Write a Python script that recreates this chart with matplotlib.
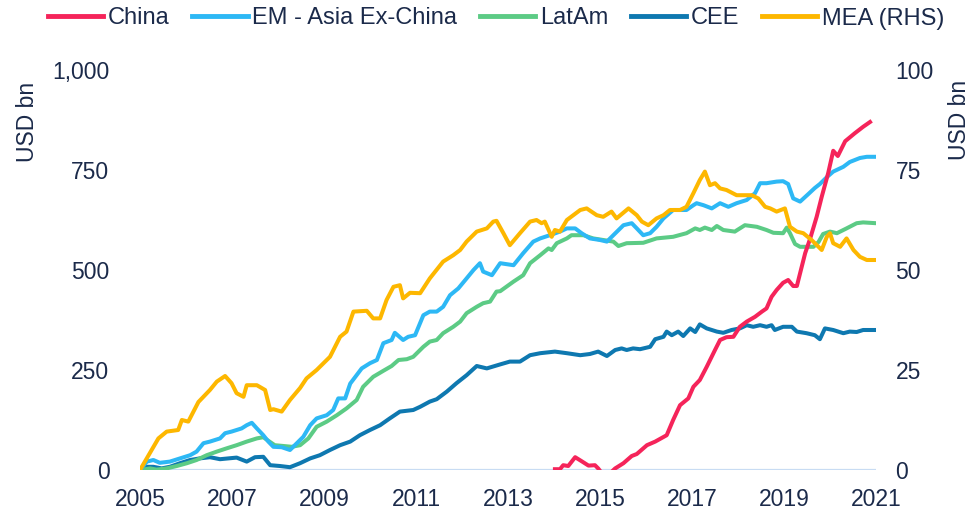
import matplotlib.pyplot as plt

plt.rcParams['font.family'] = ['Liberation Sans', 'DejaVu Sans']

# Monthly-ish readings, decimal years
china_x = [2014.02, 2014.13, 2014.20, 2014.31, 2014.46, 2014.60, 2014.75, 2014.89, 2014.96,
           2015.04, 2015.22, 2015.33, 2015.51, 2015.69, 2015.80, 2016.02, 2016.20, 2016.45,
           2016.59, 2016.74, 2016.92, 2017.03, 2017.17, 2017.32, 2017.50, 2017.61, 2017.75,
           2017.90, 2018.04, 2018.19, 2018.37, 2018.52, 2018.62, 2018.73, 2018.84, 2018.98,
           2019.09, 2019.20, 2019.28, 2019.35, 2019.46, 2019.57, 2019.71, 2019.82, 2019.96,
           2020.07, 2020.17, 2020.33, 2020.54, 2020.72, 2020.87]
china = [2, 2, 12, 10, 32, 22, 11, 12, 4,
         -8, -8, 4, 17, 35, 40, 62, 71, 87,
         125, 162, 179, 208, 225, 258, 300, 325, 332,
         333, 358, 371, 383, 396, 404, 433, 450, 468,
         475, 460, 460, 492, 542, 579, 633, 683, 742,
         798, 785, 822, 842, 858, 870]

asia_x = [2005.00, 2005.15, 2005.29, 2005.43, 2005.65, 2005.87, 2006.09, 2006.23, 2006.38,
          2006.52, 2006.63, 2006.74, 2006.85, 2006.99, 2007.10, 2007.21, 2007.32, 2007.43,
          2007.54, 2007.68, 2007.79, 2007.90, 2008.08, 2008.26, 2008.41, 2008.55, 2008.70,
          2008.84, 2009.06, 2009.20, 2009.31, 2009.46, 2009.57, 2009.82, 2010.00, 2010.15,
          2010.29, 2010.47, 2010.54, 2010.72, 2010.83, 2010.98, 2011.16, 2011.30, 2011.45,
          2011.59, 2011.74, 2011.92, 2012.10, 2012.25, 2012.39, 2012.46, 2012.65, 2012.83,
          2013.12, 2013.33, 2013.55, 2013.70, 2013.91, 2014.13, 2014.28, 2014.46, 2014.60,
          2014.78, 2015.00, 2015.15, 2015.29, 2015.51, 2015.69, 2015.80, 2015.94, 2016.09,
          2016.23, 2016.38, 2016.59, 2016.88, 2017.03, 2017.10, 2017.25, 2017.43, 2017.61,
          2017.79, 2017.97, 2018.19, 2018.37, 2018.48, 2018.62, 2018.84, 2018.98, 2019.09,
          2019.20, 2019.35, 2019.53, 2019.67, 2019.78, 2019.93, 2020.07, 2020.29, 2020.43,
          2020.65, 2020.80, 2021.00]
asia = [0, 21, 25, 18, 21, 29, 37, 46, 67,
        71, 75, 79, 92, 96, 100, 104, 112, 118,
        104, 87, 71, 58, 57, 50, 67, 83, 112,
        129, 137, 150, 179, 179, 216, 254, 267, 275,
        317, 325, 343, 325, 333, 337, 387, 396, 396,
        408, 437, 454, 479, 500, 517, 496, 487, 517,
        512, 542, 571, 579, 587, 596, 604, 604, 592,
        579, 575, 571, 587, 612, 617, 604, 587, 592,
        608, 629, 650, 650, 662, 667, 662, 654, 667,
        658, 667, 675, 692, 717, 717, 721, 722, 715,
        679, 671, 690, 705, 715, 732, 746, 758, 770,
        780, 783, 783]

latam_x = [2005.00, 2005.22, 2005.36, 2005.58, 2005.80, 2006.02, 2006.23, 2006.45, 2006.67,
           2006.88, 2007.10, 2007.32, 2007.54, 2007.68, 2007.79, 2007.93, 2008.12, 2008.30,
           2008.48, 2008.66, 2008.84, 2009.06, 2009.28, 2009.49, 2009.71, 2009.85, 2010.07,
           2010.29, 2010.47, 2010.62, 2010.80, 2010.94, 2011.16, 2011.30, 2011.45, 2011.59,
           2011.81, 2011.96, 2012.10, 2012.32, 2012.46, 2012.61, 2012.75, 2012.83, 2013.12,
           2013.33, 2013.48, 2013.70, 2013.88, 2013.95, 2014.06, 2014.28, 2014.38, 2014.64,
           2014.85, 2015.07, 2015.29, 2015.40, 2015.58, 2015.94, 2016.23, 2016.59, 2016.88,
           2017.07, 2017.17, 2017.28, 2017.43, 2017.54, 2017.68, 2017.93, 2018.15, 2018.41,
           2018.62, 2018.77, 2018.98, 2019.06, 2019.13, 2019.24, 2019.35, 2019.64, 2019.75,
           2019.85, 2020.00, 2020.15, 2020.36, 2020.58, 2020.72, 2021.00]
latam = [0, 4, 1, 4, 10, 17, 25, 37, 46,
         54, 62, 71, 79, 82, 73, 62, 60, 58,
         62, 79, 108, 121, 137, 154, 175, 208, 233,
         248, 260, 275, 277, 283, 308, 321, 325, 342,
         358, 371, 392, 408, 417, 421, 446, 447, 471,
         487, 517, 537, 554, 550, 567, 579, 587, 587,
         579, 575, 571, 560, 567, 568, 579, 583, 592,
         604, 600, 606, 600, 610, 600, 596, 612, 608,
         600, 593, 592, 606, 592, 565, 558, 558, 570,
         590, 596, 592, 604, 617, 619, 617]

cee_x = [2005.00, 2005.15, 2005.29, 2005.47, 2005.65, 2005.87, 2006.09, 2006.30, 2006.52,
         2006.74, 2006.92, 2007.10, 2007.32, 2007.50, 2007.68, 2007.83, 2008.04, 2008.26,
         2008.48, 2008.70, 2008.91, 2009.13, 2009.35, 2009.57, 2009.78, 2010.00, 2010.22,
         2010.43, 2010.65, 2010.94, 2011.09, 2011.30, 2011.45, 2011.67, 2011.88, 2012.10,
         2012.32, 2012.54, 2012.83, 2013.04, 2013.26, 2013.48, 2013.70, 2014.02, 2014.28,
         2014.57, 2014.78, 2014.96, 2015.15, 2015.33, 2015.47, 2015.58, 2015.72, 2015.87,
         2016.09, 2016.20, 2016.38, 2016.45, 2016.56, 2016.70, 2016.81, 2016.96, 2017.07,
         2017.17, 2017.32, 2017.54, 2017.68, 2017.86, 2018.04, 2018.19, 2018.33, 2018.48,
         2018.62, 2018.73, 2018.80, 2018.98, 2019.17, 2019.28, 2019.49, 2019.67, 2019.78,
         2019.89, 2020.07, 2020.29, 2020.43, 2020.58, 2020.72, 2021.00]
cee = [0, 8, 8, 4, 8, 17, 25, 29, 32,
       27, 29, 31, 21, 32, 33, 12, 10, 7,
       17, 29, 37, 50, 62, 71, 87, 100, 112,
       129, 146, 150, 158, 171, 177, 196, 217, 237,
       260, 254, 264, 271, 271, 287, 292, 296, 292,
       287, 290, 296, 285, 300, 304, 300, 304, 302,
       308, 327, 333, 346, 337, 346, 335, 354, 345,
       364, 354, 346, 343, 350, 354, 362, 358, 362,
       358, 362, 350, 358, 358, 346, 342, 337, 327,
       354, 350, 342, 346, 345, 350, 350]

# Middle East & Africa, plotted on the right-hand axis
mea_x = [2005.00, 2005.40, 2005.58, 2005.83, 2005.91, 2006.05, 2006.27, 2006.52, 2006.67,
         2006.85, 2006.99, 2007.10, 2007.25, 2007.32, 2007.54, 2007.72, 2007.83, 2007.90,
         2008.08, 2008.26, 2008.48, 2008.62, 2008.84, 2009.13, 2009.35, 2009.49, 2009.64,
         2009.93, 2010.07, 2010.22, 2010.36, 2010.51, 2010.65, 2010.72, 2010.87, 2011.09,
         2011.30, 2011.59, 2011.81, 2011.96, 2012.10, 2012.32, 2012.54, 2012.68, 2012.75,
         2012.90, 2013.04, 2013.26, 2013.48, 2013.62, 2013.73, 2013.80, 2013.95, 2014.02,
         2014.13, 2014.28, 2014.57, 2014.71, 2014.93, 2015.07, 2015.25, 2015.36, 2015.62,
         2015.80, 2015.91, 2016.05, 2016.23, 2016.38, 2016.52, 2016.74, 2016.88, 2017.03,
         2017.17, 2017.28, 2017.39, 2017.50, 2017.61, 2017.75, 2017.97, 2018.30, 2018.44,
         2018.59, 2018.70, 2018.84, 2019.02, 2019.13, 2019.28, 2019.42, 2019.60, 2019.75,
         2019.82, 2019.93, 2020.00, 2020.07, 2020.22, 2020.36, 2020.51, 2020.65, 2020.80,
         2021.00]
mea = [0, 7.9, 9.6, 10, 12.5, 12.1, 17, 20, 22.1,
       23.5, 21.7, 19.2, 18.3, 21.2, 21.2, 20, 15, 15.2,
       14.6, 17.5, 20.5, 22.9, 25, 28.3, 33.3, 34.6, 39.6,
       39.8, 37.9, 37.9, 42.5, 45.8, 46.2, 42.9, 44.3, 44.2,
       47.9, 52.1, 53.7, 55, 57.1, 59.6, 60.4, 62.1, 62.3,
       59.2, 56.2, 59.2, 62.1, 62.5, 61.7, 62.1, 58.3, 60,
       59.6, 62.5, 65, 65.4, 63.7, 63.3, 64.6, 62.9, 65.4,
       63.7, 62.1, 61.2, 62.9, 63.7, 65, 65, 65.8, 69.2,
       72.5, 74.6, 71.2, 71.7, 70.4, 70, 68.7, 68.7, 67.9,
       65.8, 65.4, 64.6, 65.4, 60.8, 59.6, 59.2, 57.5, 55.8,
       55, 58.3, 59.2, 56.7, 55.8, 57.9, 55.0, 53.3, 52.5,
       52.5]

year_ticks = list(range(2005, 2022, 2))
left_ticks = [0, 250, 500, 750, 1000]
left_labels = ['0', '250', '500', '750', '1,000']
right_ticks = [0, 25, 50, 75, 100]

text_col = '#1B2A4A'
fs = 16.5

fig = plt.figure(figsize=(9.74, 5.11), dpi=100)
ax = fig.add_axes([140 / 974, 1 - 470 / 511, 736 / 974, 400 / 511])
ax2 = ax.twinx()

ax.axhline(0, color='#C8DCF3', lw=1.6, zorder=0)

lw = 2.9
l_cee, = ax.plot(cee_x, cee, color='#0E78B0', lw=lw, label='CEE')
l_latam, = ax.plot(latam_x, latam, color='#5CCB85', lw=lw, label='LatAm')
l_asia, = ax.plot(asia_x, asia, color='#2DB8F5', lw=lw, label='EM - Asia Ex-China')
l_china, = ax.plot(china_x, china, color='#F5245A', lw=lw, label='China', zorder=3)
l_mea, = ax2.plot(mea_x, mea, color='#FDB700', lw=lw, label='MEA (RHS)')

ax.set_xlim(2005, 2021)
ax.set_ylim(0, 1000)
ax2.set_ylim(0, 100)

ax.set_xticks(year_ticks)
ax.set_xticklabels([str(y) for y in year_ticks])
ax.set_yticks(left_ticks)
ax.set_yticklabels(left_labels)
ax2.set_yticks(right_ticks)
ax2.set_yticklabels([str(t) for t in right_ticks])

for a in (ax, ax2):
    for s in a.spines.values():
        s.set_visible(False)
ax.tick_params(axis='x', length=0, pad=13, labelsize=fs, colors=text_col)
ax.tick_params(axis='y', length=0, pad=22, labelsize=fs, colors=text_col)
ax2.tick_params(axis='y', length=0, pad=14, labelsize=fs, colors=text_col)

fig.text(27 / 974, 1 - 122 / 511, 'USD bn', rotation=90, ha='center', va='center',
         fontsize=fs, color=text_col)
fig.text(960 / 974, 1 - 120 / 511, 'USD bn', rotation=90, ha='center', va='center',
         fontsize=fs, color=text_col)

leg = fig.legend([l_china, l_asia, l_latam, l_cee, l_mea],
                 ['China', 'EM - Asia Ex-China', 'LatAm', 'CEE', 'MEA (RHS)'],
                 loc='center', bbox_to_anchor=(496 / 974, 1 - 18.5 / 511), ncol=5,
                 frameon=False, fontsize=17, handlelength=2.35, handletextpad=0.2,
                 columnspacing=0.95, borderaxespad=0)
for t in leg.get_texts():
    t.set_color(text_col)
for h in leg.get_lines():
    h.set_linewidth(3.5)

fig.savefig('out.png', dpi=100)
